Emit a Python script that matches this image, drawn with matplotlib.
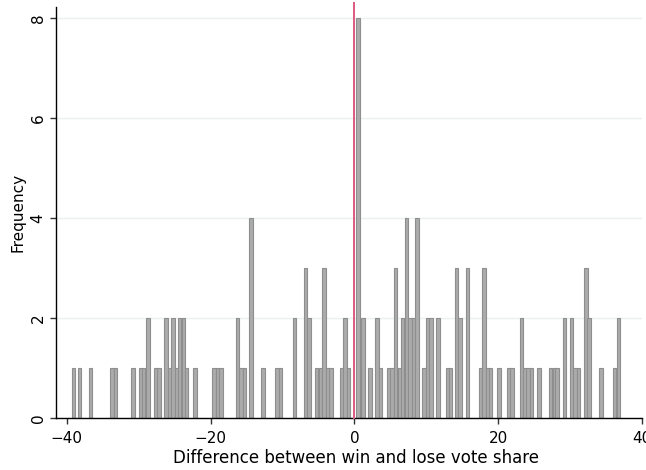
import numpy as np
import matplotlib
matplotlib.use('Agg')
import matplotlib.pyplot as plt

plt.rcParams['font.family'] = ['DejaVu Sans']

# bar centres (vote share difference) and frequencies
centers = [-39.1, -38.2, -36.7, -33.7, -33.2, -30.8, -29.75, -29.3, -28.7,
           -27.6, -27.15, -26.2, -25.7, -25.2, -24.75, -24.3, -23.8, -23.35,
           -22.2, -19.55, -19.05, -18.55, -16.25, -15.8, -15.3, -14.35,
           -12.7, -10.75, -10.3, -8.3, -6.8, -6.3, -5.25, -4.75, -4.25,
           -3.7, -3.25, -1.8, -1.3, -0.8, 0.5,
           1.2, 2.2, 3.15, 3.65, 4.77, 5.25, 5.74, 6.25, 6.7, 7.22, 7.76,
           8.24, 8.7, 9.7, 10.2, 10.65, 11.65, 12.95, 13.4, 14.2, 14.7,
           15.75, 17.55, 18.0, 18.5, 18.95, 20.1, 21.5, 21.95, 23.25, 23.7,
           24.15, 24.6, 25.7, 27.3, 27.8, 28.2, 29.25, 30.2, 30.7, 31.2,
           32.2, 32.65, 34.3, 36.2, 36.7]
freq = [1, 1, 1, 1, 1, 1, 1, 1, 2,
        1, 1, 2, 1, 2, 1, 2, 2, 1,
        1, 1, 1, 1, 2, 1, 1, 4,
        1, 1, 1, 2, 3, 2, 1, 1, 3,
        1, 1, 1, 2, 1, 8,
        2, 1, 2, 1, 1, 1, 3, 1, 2, 4, 2,
        2, 4, 1, 2, 2, 2, 1, 1, 3, 2,
        3, 1, 3, 1, 1, 1, 1, 1, 2, 1,
        1, 1, 1, 1, 1, 1, 2, 2, 1, 1,
        3, 2, 1, 1, 2]
xticks = [-40, -20, 0, 20, 40]
yticks = [0, 2, 4, 6, 8]

fig = plt.figure(figsize=(6.46, 4.70), dpi=100)
ax = fig.add_axes([0.0867, 0.1106, 0.9071, 0.8745])

ax.bar(centers, freq, width=0.48, color='#ababab', edgecolor='#8e8e8e',
       linewidth=0.8, zorder=2)
# cut-off line at zero
ax.plot([0, 0], [0, 8.3], color='#dc5a82', linewidth=1.4, zorder=3,
        clip_on=False)

ax.set_xlim(-41.5, 40)
ax.set_ylim(0, 8.22)
ax.set_xticks(xticks)
ax.set_yticks(yticks)
ax.set_yticklabels([str(v) for v in yticks], rotation=90, va='center')
ax.yaxis.grid(True, color='#e8f0f0', linewidth=1.0, zorder=0)
ax.set_axisbelow(True)

for s in ['top', 'right']:
    ax.spines[s].set_visible(False)
ax.spines['left'].set_linewidth(1.0)
ax.spines['bottom'].set_linewidth(1.0)
ax.tick_params(axis='both', direction='out', length=4, width=1,
               colors='#333333', labelcolor='black', labelsize=11)
ax.tick_params(axis='x', pad=5)

ax.set_xlabel('Difference between win and lose vote share', fontsize=12,
              labelpad=1)
ax.xaxis.set_label_coords(0.512, -0.075)
ax.set_ylabel('Frequency', fontsize=11, labelpad=4)

plt.savefig('out.png', dpi=100)
